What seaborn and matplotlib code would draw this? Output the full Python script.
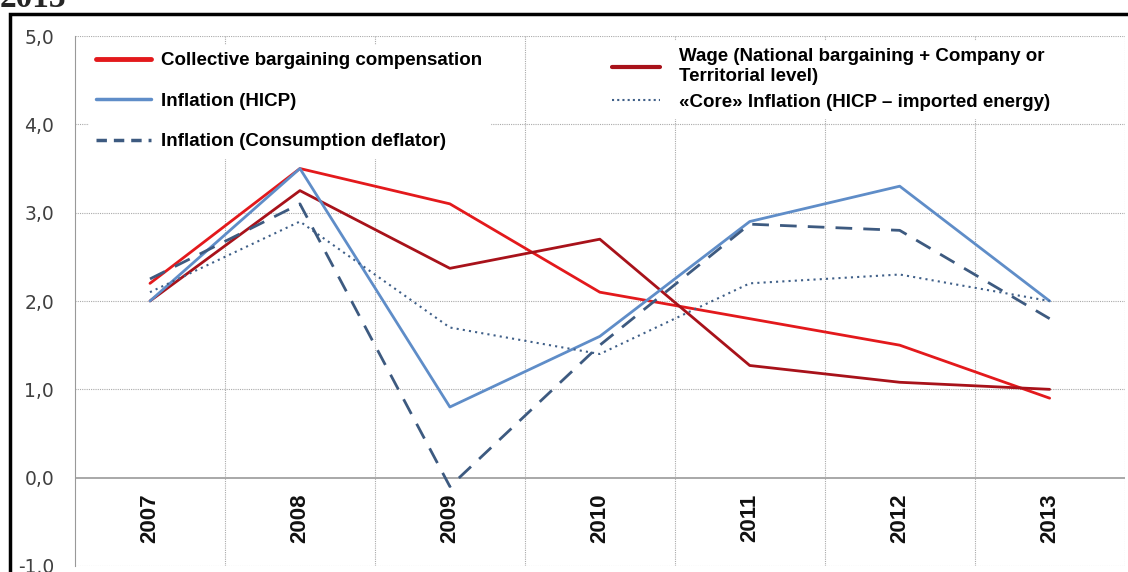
import matplotlib
matplotlib.use("Agg")
import matplotlib.pyplot as plt
import seaborn as sns
import pandas as pd
from matplotlib.lines import Line2D
from matplotlib.patches import Rectangle

# data
years = [2007, 2008, 2009, 2010, 2011, 2012, 2013]
collective = [2.2, 3.5, 3.1, 2.1, 1.8, 1.5, 0.9]
wage = [2.0, 3.25, 2.37, 2.7, 1.27, 1.08, 1.0]
hicp = [2.0, 3.5, 0.8, 1.6, 2.9, 3.3, 2.0]
core = [2.1, 2.9, 1.7, 1.4, 2.2, 2.3, 2.0]
deflator = [2.25, 3.1, -0.1, 1.5, 2.87, 2.8, 1.8]

y_ticks = [-1, 0, 1, 2, 3, 4, 5]
y_tick_labels = ["-1.0", "0,0", "1,0", "2,0", "3,0", "4,0", "5,0"]

left_labels = [
    "Collective bargaining compensation",
    "Inflation (HICP)",
    "Inflation (Consumption deflator)",
]
right_labels = [
    "Wage (National bargaining + Company or\nTerritorial level)",
    "«Core» Inflation (HICP – imported energy)",
]

sns.set_style("white")
plt.rcParams["font.family"] = ["DejaVu Sans"]

fig = plt.figure(figsize=(11.28, 5.72), dpi=100)
ax = fig.add_axes([0.0665, 0.0105, 0.9305, 0.9265])

df = pd.DataFrame({"year": years, "collective": collective, "wage": wage,
                   "hicp": hicp, "core": core, "deflator": deflator})

styles = {
    "collective": dict(color="#e3191c", lw=2.0, ls="-"),
    "wage": dict(color="#a8121a", lw=2.0, ls="-"),
    "hicp": dict(color="#5f8dc8", lw=2.0, ls="-"),
    "core": dict(color="#3f5f88", lw=1.5, ls=(0, (1, 2))),
    "deflator": dict(color="#3d5a80", lw=2.0, ls=(0, (6, 4))),
}
for col, st in styles.items():
    sns.lineplot(data=df, x="year", y=col, ax=ax, color=st["color"],
                 linewidth=st["lw"], linestyle=st["ls"], legend=False)

ax.set_xlim(2006.5, 2013.5)
ax.set_ylim(-1, 5)
ax.set_yticks(y_ticks)
ax.set_yticklabels(y_tick_labels, fontsize=13.5, color="#404040")
ax.set_xticks([])
ax.set_xlabel("")
ax.set_ylabel("")
ax.tick_params(axis="y", length=6, color="#999999", pad=9)

# grid
for y in y_ticks:
    if y == 0:
        ax.axhline(0, color="#999999", lw=1.2, zorder=0)
    else:
        ax.axhline(y, color="#aaaaaa", lw=0.8, ls=(0, (1, 1)), zorder=0)
for x in range(7):
    ax.axvline(2007.5 + x, color="#aaaaaa", lw=0.8, ls=(0, (1, 1)), zorder=0)

for s in ["top", "right", "bottom"]:
    ax.spines[s].set_visible(False)
ax.spines["left"].set_color("#999999")

for yr in years:
    ax.text(yr, -0.46, str(yr), rotation=90, ha="center", va="center",
            fontsize=16, color="#111111", family="Liberation Sans", weight="bold")

leg_font = {"family": "Liberation Sans", "weight": "bold", "size": 13.5}

left_handles = [
    Line2D([], [], color=styles["collective"]["color"], lw=3.5),
    Line2D([], [], color=styles["hicp"]["color"], lw=2.5),
    Line2D([], [], color=styles["deflator"]["color"], lw=2.5, ls=(0, (3, 2))),
]
right_handles = [
    Line2D([], [], color=styles["wage"]["color"], lw=3),
    Line2D([], [], color=styles["core"]["color"], lw=1.5, ls=(0, (1, 1.5))),
]
leg1 = ax.legend(left_handles, left_labels, loc="upper left",
                 bbox_to_anchor=(0.0133, 0.984), borderaxespad=0,
                 frameon=True, fancybox=False, edgecolor="white",
                 facecolor="white", framealpha=1, prop=leg_font,
                 labelcolor="black",
                 handlelength=2.9, handletextpad=0.55, labelspacing=1.25,
                 borderpad=0.4)
ax.add_artist(leg1)
ax.legend(right_handles, right_labels, loc="upper left",
          bbox_to_anchor=(0.504, 0.991), borderaxespad=0,
          frameon=True, fancybox=False, edgecolor="white",
          facecolor="white", framealpha=1, prop=leg_font,
          labelcolor="black",
          handlelength=2.6, handletextpad=1.0, labelspacing=0.47,
          borderpad=0.4)

# outer frame and clipped title
fig.patches.append(Rectangle((10 / 1128, -0.05), 1.2, 1 - 14 / 572 + 0.05,
                             transform=fig.transFigure, fill=False,
                             edgecolor="black", lw=2.5))
fig.text(0.0, 1 - 7 / 572, "2013", fontsize=24, weight="bold",
         family="Liberation Serif", va="baseline")

fig.savefig("out.png", dpi=100)
